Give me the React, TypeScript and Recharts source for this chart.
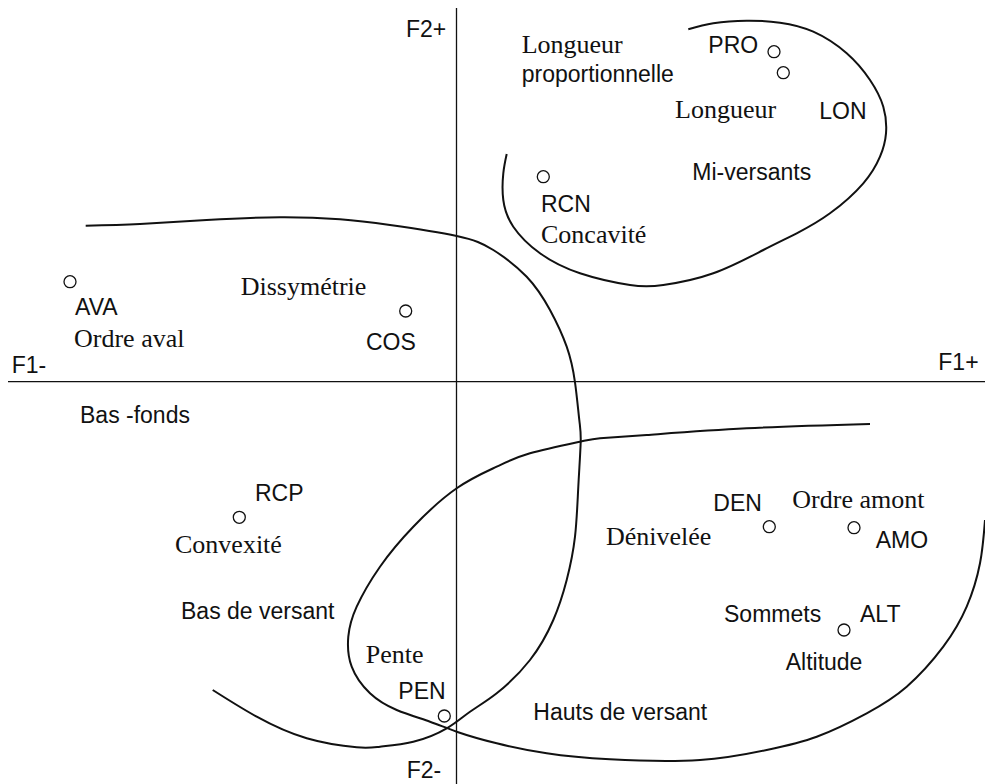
import { ReferenceLine, Scatter, ScatterChart, XAxis, YAxis } from 'recharts';

// factor plane F1 x F2, scores
const varCodes = ['AVA', 'COS', 'PRO', 'LON', 'RCN', 'RCP', 'PEN', 'DEN', 'AMO', 'ALT'];
const varF1 = [-3.865, -0.508, 3.175, 3.268, 0.868, -2.172, -0.122, 3.128, 3.975, 3.875];
const varF2 = [1.0, 0.707, 3.3, 3.09, 2.05, -1.356, -3.343, -1.45, -1.46, -2.483];

// text annotations, anchored at the left end of their baseline
const labelTexts = [
  'F2+', 'F2-', 'F1-', 'F1+',
  'AVA', 'Ordre aval', 'Dissymétrie', 'COS',
  'Longueur', 'proportionnelle', 'PRO', 'Longueur', 'LON', 'Mi-versants', 'RCN', 'Concavité',
  'Bas -fonds', 'RCP', 'Convexité', 'Bas de versant', 'Pente', 'PEN',
  'DEN', 'Ordre amont', 'Dénivelée', 'AMO', 'Sommets', 'ALT', 'Altitude', 'Hauts de versant',
];
const labelF1 = [
  -0.505, -0.498, -4.448, 4.818,
  -3.815, -3.825, -2.158, -0.905,
  0.652, 0.652, 2.518, 2.185, 3.628, 2.358, 0.845, 0.845,
  -3.765, -2.015, -2.815, -2.755, -0.908, -0.582,
  2.568, 3.358, 1.495, 4.192, 2.675, 4.035, 3.292, 0.768,
];
const labelF2 = [
  3.447, -3.966, 0.084, 0.117,
  0.667, 0.352, 0.867, 0.317,
  3.284, 3.002, 3.29, 2.634, 2.624, 2.017, 1.7, 1.384,
  -0.416, -1.19, -1.716, -2.376, -2.81, -3.176,
  -1.293, -1.266, -1.633, -1.666, -2.4, -2.4, -2.883, -3.383,
];
const serifLabels = ['Ordre aval', 'Dissymétrie', 'Longueur', 'Concavité', 'Convexité', 'Pente', 'Ordre amont', 'Dénivelée'];

// hand-drawn group boundaries, [F1, F2]
const miVersants = [
  [2.318, 3.524], [2.568, 3.584], [2.902, 3.61], [3.235, 3.59], [3.568, 3.5], [3.902, 3.284],
  [4.135, 3.017], [4.268, 2.75], [4.295, 2.484], [4.235, 2.25], [4.068, 1.984], [3.735, 1.684],
  [3.402, 1.484], [3.068, 1.317], [2.568, 1.084], [2.068, 0.967], [1.735, 0.967], [1.235, 1.084],
  [0.835, 1.284], [0.568, 1.55], [0.468, 1.817], [0.468, 2.084], [0.502, 2.277],
];
const basVersant = [
  [-3.708, 1.56], [-3.165, 1.577], [-2.498, 1.617], [-1.765, 1.644], [-1.165, 1.624], [-0.665, 1.567],
  [0.002, 1.457], [0.368, 1.317], [0.702, 1.05], [0.935, 0.717], [1.102, 0.35], [1.185, -0.006],
  [1.228, -0.383], [1.242, -0.6], [1.218, -1.05], [1.185, -1.55], [1.102, -1.983], [0.968, -2.383],
  [0.735, -2.783], [0.402, -3.116], [0.135, -3.3], [-0.098, -3.466], [-0.432, -3.6], [-0.765, -3.65],
  [-0.998, -3.656], [-1.498, -3.566], [-1.998, -3.35], [-2.438, -3.083],
];
const hautsVersant = [
  [4.135, -0.423], [2.902, -0.466], [1.902, -0.533], [1.435, -0.566], [1.235, -0.6], [0.735, -0.716],
  [0.402, -0.85], [0.002, -1.066], [-0.432, -1.45], [-0.765, -1.85], [-0.998, -2.25], [-1.082, -2.55],
  [-1.048, -2.85], [-0.865, -3.116], [-0.598, -3.283], [-0.265, -3.4], [0.002, -3.5], [0.402, -3.616],
  [0.902, -3.716], [1.535, -3.776], [2.435, -3.783], [3.102, -3.683], [3.602, -3.55], [4.102, -3.316],
  [4.502, -3.05], [4.868, -2.65], [5.102, -2.25], [5.235, -1.816], [5.285, -1.383],
];

const INK = '#111';
const SANS = '"Liberation Sans", Arial, sans-serif';
const SERIF = '"Liberation Serif", "Times New Roman", serif';

const points = varCodes.map((code, i) => ({ code, f1: varF1[i], f2: varF2[i] }));
const labels = labelTexts.map((text, i) => ({ text, f1: labelF1[i], f2: labelF2[i] }));
const toRows = (pts: number[][]) => pts.map(([f1, f2]) => ({ f1, f2 }));

function Ring(props: any) {
  return <circle cx={props.cx} cy={props.cy} r={6} fill="#fff" stroke={INK} strokeWidth={1.3} />;
}

function Label(props: any) {
  const text: string = props.payload.text;
  const serif = serifLabels.includes(text);
  return (
    <text
      x={props.cx}
      y={props.cy}
      fill={INK}
      fontFamily={serif ? SERIF : SANS}
      fontSize={serif ? 26 : 23}
      textAnchor="start"
    >
      {text}
    </text>
  );
}

const noMark = () => <g />;

export default function App() {
  return (
    <div style={{ position: 'absolute', left: 0, top: 0, width: 985, height: 784, background: '#fff' }}>
      <ScatterChart width={985} height={784} margin={{ top: 8, right: 0, bottom: 0, left: 8 }}>
        <XAxis type="number" dataKey="f1" domain={[-4.485, 5.285]} allowDataOverflow hide />
        <YAxis type="number" dataKey="f2" domain={[-4.023, 3.737]} allowDataOverflow hide width={0} />
        <ReferenceLine x={0} stroke={INK} strokeWidth={1.3} />
        <ReferenceLine y={0} stroke={INK} strokeWidth={1.3} />
        {[miVersants, basVersant, hautsVersant].map((curve, i) => (
          <Scatter
            key={i}
            data={toRows(curve)}
            line={{ stroke: INK, strokeWidth: 2 }}
            lineJointType="natural"
            shape={noMark}
            isAnimationActive={false}
          />
        ))}
        <Scatter data={points} shape={Ring} isAnimationActive={false} />
        <Scatter data={labels} shape={Label} isAnimationActive={false} />
      </ScatterChart>
    </div>
  );
}
